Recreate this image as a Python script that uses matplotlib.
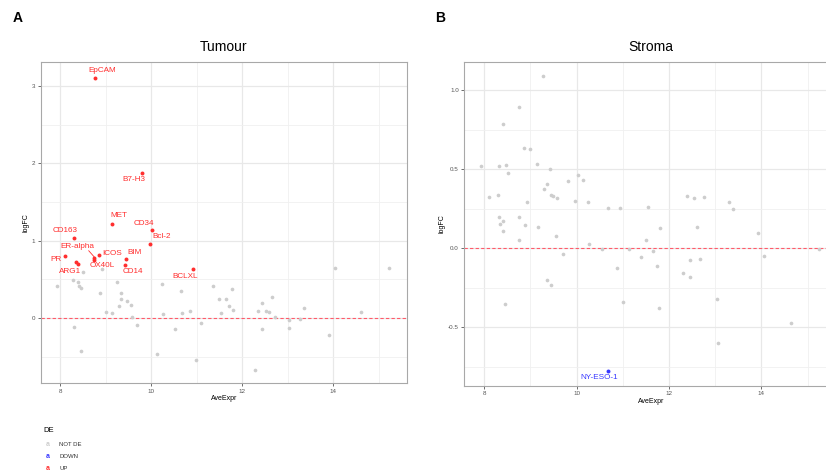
import matplotlib
matplotlib.use("Agg")
import matplotlib.pyplot as plt
from matplotlib.ticker import MultipleLocator

plt.rcParams["font.family"] = ["Liberation Sans", "DejaVu Sans"]

# ---- Tumour (panel A) ----
tum_up_names = ["EpCAM", "B7-H3", "MET", "CD34", "Bcl-2", "CD163", "ER-alpha",
                "ICOS", "BIM", "PR", "OX40L", "ARG1", "", "CD14", "BCLXL"]
tum_up_x = [8.76, 9.80, 9.14, 10.02, 9.97, 8.31, 8.75,
            8.85, 9.44, 8.10, 8.75, 8.39, 8.34, 9.42, 10.92]
tum_up_y = [3.11, 1.88, 1.22, 1.135, 0.96, 1.04, 0.78,
            0.82, 0.76, 0.80, 0.75, 0.70, 0.72, 0.69, 0.63]

tum_ns_x = [7.93, 8.28, 8.39, 8.41, 8.47, 8.51, 8.92, 8.88, 9.26, 9.34,
            9.34, 9.47, 9.55, 9.29, 9.00, 9.15, 9.58, 9.69, 8.31, 8.45,
            10.23, 10.27, 10.13, 10.66, 10.67, 10.85, 10.53, 11.10, 10.98, 11.37,
            11.48, 11.53, 11.64, 11.71, 11.77, 11.80, 12.29, 12.35, 12.43, 12.43,
            12.52, 12.60, 12.65, 12.73, 13.02, 13.03, 13.27, 13.36, 13.90, 14.03,
            14.62, 15.23]
tum_ns_y = [0.42, 0.49, 0.46, 0.41, 0.39, 0.60, 0.63, 0.32, 0.46, 0.32,
            0.24, 0.22, 0.17, 0.15, 0.08, 0.06, 0.01, -0.09, -0.12, -0.42,
            0.44, 0.05, -0.46, 0.35, 0.07, 0.09, -0.14, -0.06, -0.54, 0.41,
            0.24, 0.06, 0.24, 0.15, 0.38, 0.11, -0.67, 0.09, 0.20, -0.14,
            0.09, 0.08, 0.27, 0.01, -0.13, -0.03, -0.01, 0.13, -0.22, 0.65,
            0.08, 0.65]

# ---- Stroma (panel B) ----
str_down_names = ["NY-ESO-1"]
str_down_x = [10.67]
str_down_y = [-0.778]

str_ns_x = [9.28, 8.76, 8.41, 8.87, 9.00, 9.15, 9.43, 7.93, 8.31, 8.46,
            8.51, 9.36, 9.30, 9.45, 9.48, 9.58, 9.81, 10.02, 10.14, 9.97,
            10.24, 8.93, 8.10, 8.29, 10.68, 10.94, 8.31, 8.76, 8.35, 8.40,
            8.89, 9.16, 11.55, 12.38, 12.54, 12.75, 13.30, 13.38, 11.81, 12.61,
            8.40, 8.75, 9.55, 9.70, 10.27, 10.55, 9.35, 9.44, 8.45, 10.87,
            11.00, 11.13, 11.50, 11.66, 11.39, 11.74, 11.79, 12.30, 12.45, 12.45,
            12.68, 13.03, 13.05, 13.92, 14.05, 14.65, 15.24]
str_ns_y = [1.09, 0.894, 0.785, 0.633, 0.627, 0.534, 0.504, 0.519, 0.519, 0.525,
            0.475, 0.41, 0.373, 0.337, 0.329, 0.318, 0.428, 0.462, 0.432, 0.301,
            0.291, 0.291, 0.327, 0.337, 0.253, 0.253, 0.196, 0.196, 0.154, 0.171,
            0.146, 0.135, 0.259, 0.329, 0.318, 0.323, 0.295, 0.249, 0.130, 0.135,
            0.109, 0.055, 0.076, -0.038, 0.027, -0.002, -0.199, -0.23, -0.35, -0.123,
            -0.34, -0.002, 0.050, -0.015, -0.057, -0.112, -0.38, -0.154, -0.076, -0.182,
            -0.068, -0.319, -0.597, 0.097, -0.047, -0.471, -0.002]

GREY = "#CDCDCD"
RED = "#FF2E2E"
BLUE = "#3838FF"

# label nudges (data units) to mimic ggrepel placement
nudge = {
    "EpCAM": (0.17, 0.09), "B7-H3": (-0.19, -0.09), "MET": (0.15, 0.10),
    "CD34": (-0.19, 0.085), "Bcl-2": (0.27, 0.09), "CD163": (-0.19, 0.09),
    "ER-alpha": (-0.37, 0.14), "ICOS": (0.30, 0.015), "BIM": (0.20, 0.09),
    "PR": (-0.20, -0.04), "OX40L": (0.18, -0.075), "ARG1": (-0.18, -0.10),
    "CD14": (0.17, -0.09), "BCLXL": (-0.17, -0.09), "NY-ESO-1": (-0.18, -0.04),
}


def style_axes(ax, xlim, ylim, ymaj):
    ax.set_xlim(*xlim)
    ax.set_ylim(*ylim)
    ax.xaxis.set_major_locator(MultipleLocator(2))
    ax.xaxis.set_minor_locator(MultipleLocator(1))
    ax.yaxis.set_major_locator(MultipleLocator(ymaj))
    ax.yaxis.set_minor_locator(MultipleLocator(ymaj / 2))
    ax.grid(which="major", color="#E8E8E8", lw=0.9)
    ax.grid(which="minor", color="#F0F0F0", lw=0.6)
    ax.set_axisbelow(True)
    for s in ax.spines.values():
        s.set_color("#A8A8A8")
        s.set_linewidth(0.8)
    ax.tick_params(which="major", length=2, width=0.6, color="#555555",
                   labelsize=4.5, labelcolor="#555555", pad=2)
    ax.tick_params(which="minor", length=0)
    ax.axhline(0, color="#FF5A6A", lw=0.8, ls=(0, (3, 2)), zorder=1)
    ax.set_xlabel("AveExpr", fontsize=5, labelpad=1)
    ax.set_ylabel("logFC", fontsize=5, labelpad=2)


def add_labels(ax, names, xs, ys, color):
    for n, x, y in zip(names, xs, ys):
        if not n:
            continue
        dx, dy = nudge[n]
        ax.text(x + dx, y + dy, n, color=color, fontsize=5.9,
                ha="center", va="center", zorder=4)
        if n == "ER-alpha":
            ax.plot([x + dx + 0.25, x], [y + dy - 0.05, y + 0.01],
                    color=color, lw=0.6, zorder=3)


fig = plt.figure(figsize=(8.26, 4.74), dpi=100)
axA = fig.add_axes([0.0496, 0.192, 0.4431, 0.677])
axB = fig.add_axes([0.5621, 0.1863, 0.452, 0.682])

style_axes(axA, (7.58, 15.62), (-0.84, 3.31), 1)
axA.scatter(tum_ns_x, tum_ns_y, s=7, color=GREY, lw=0, zorder=2)
axA.scatter(tum_up_x, tum_up_y, s=8, color=RED, lw=0, zorder=3)
add_labels(axA, tum_up_names, tum_up_x, tum_up_y, RED)
axA.set_title("Tumour", fontsize=10, pad=8)

style_axes(axB, (7.567, 15.65), (-0.87, 1.177), 0.5)
axB.yaxis.set_major_formatter(matplotlib.ticker.FormatStrFormatter("%.1f"))
axB.scatter(str_ns_x, str_ns_y, s=7, color=GREY, lw=0, zorder=2)
axB.scatter(str_down_x, str_down_y, s=8, color=BLUE, lw=0, zorder=3)
add_labels(axB, str_down_names, str_down_x, str_down_y, BLUE)
axB.set_title("Stroma", fontsize=10, pad=8)

fig.text(13 / 826, 1 - 18 / 474, "A", fontsize=10, fontweight="bold",
         va="center", ha="left")
fig.text(435 / 826, 1 - 18 / 474, "B", fontsize=10, fontweight="bold",
         va="center", ha="left")

# legend (ggplot text-key style)
fig.text(43 / 826, 1 - 430 / 474, "DE", fontsize=5.5, va="center")
for i, (lab, col) in enumerate([("NOT DE", GREY), ("DOWN", BLUE), ("UP", RED)]):
    yy = 1 - (445 + 12 * i) / 474
    fig.text(48 / 826, yy, "a", color=col, fontsize=5, fontweight="bold",
             ha="center", va="center")
    fig.text(59 / 826, yy, lab, fontsize=4.3, color="#333333", va="center")

fig.savefig("out.png", dpi=100)
